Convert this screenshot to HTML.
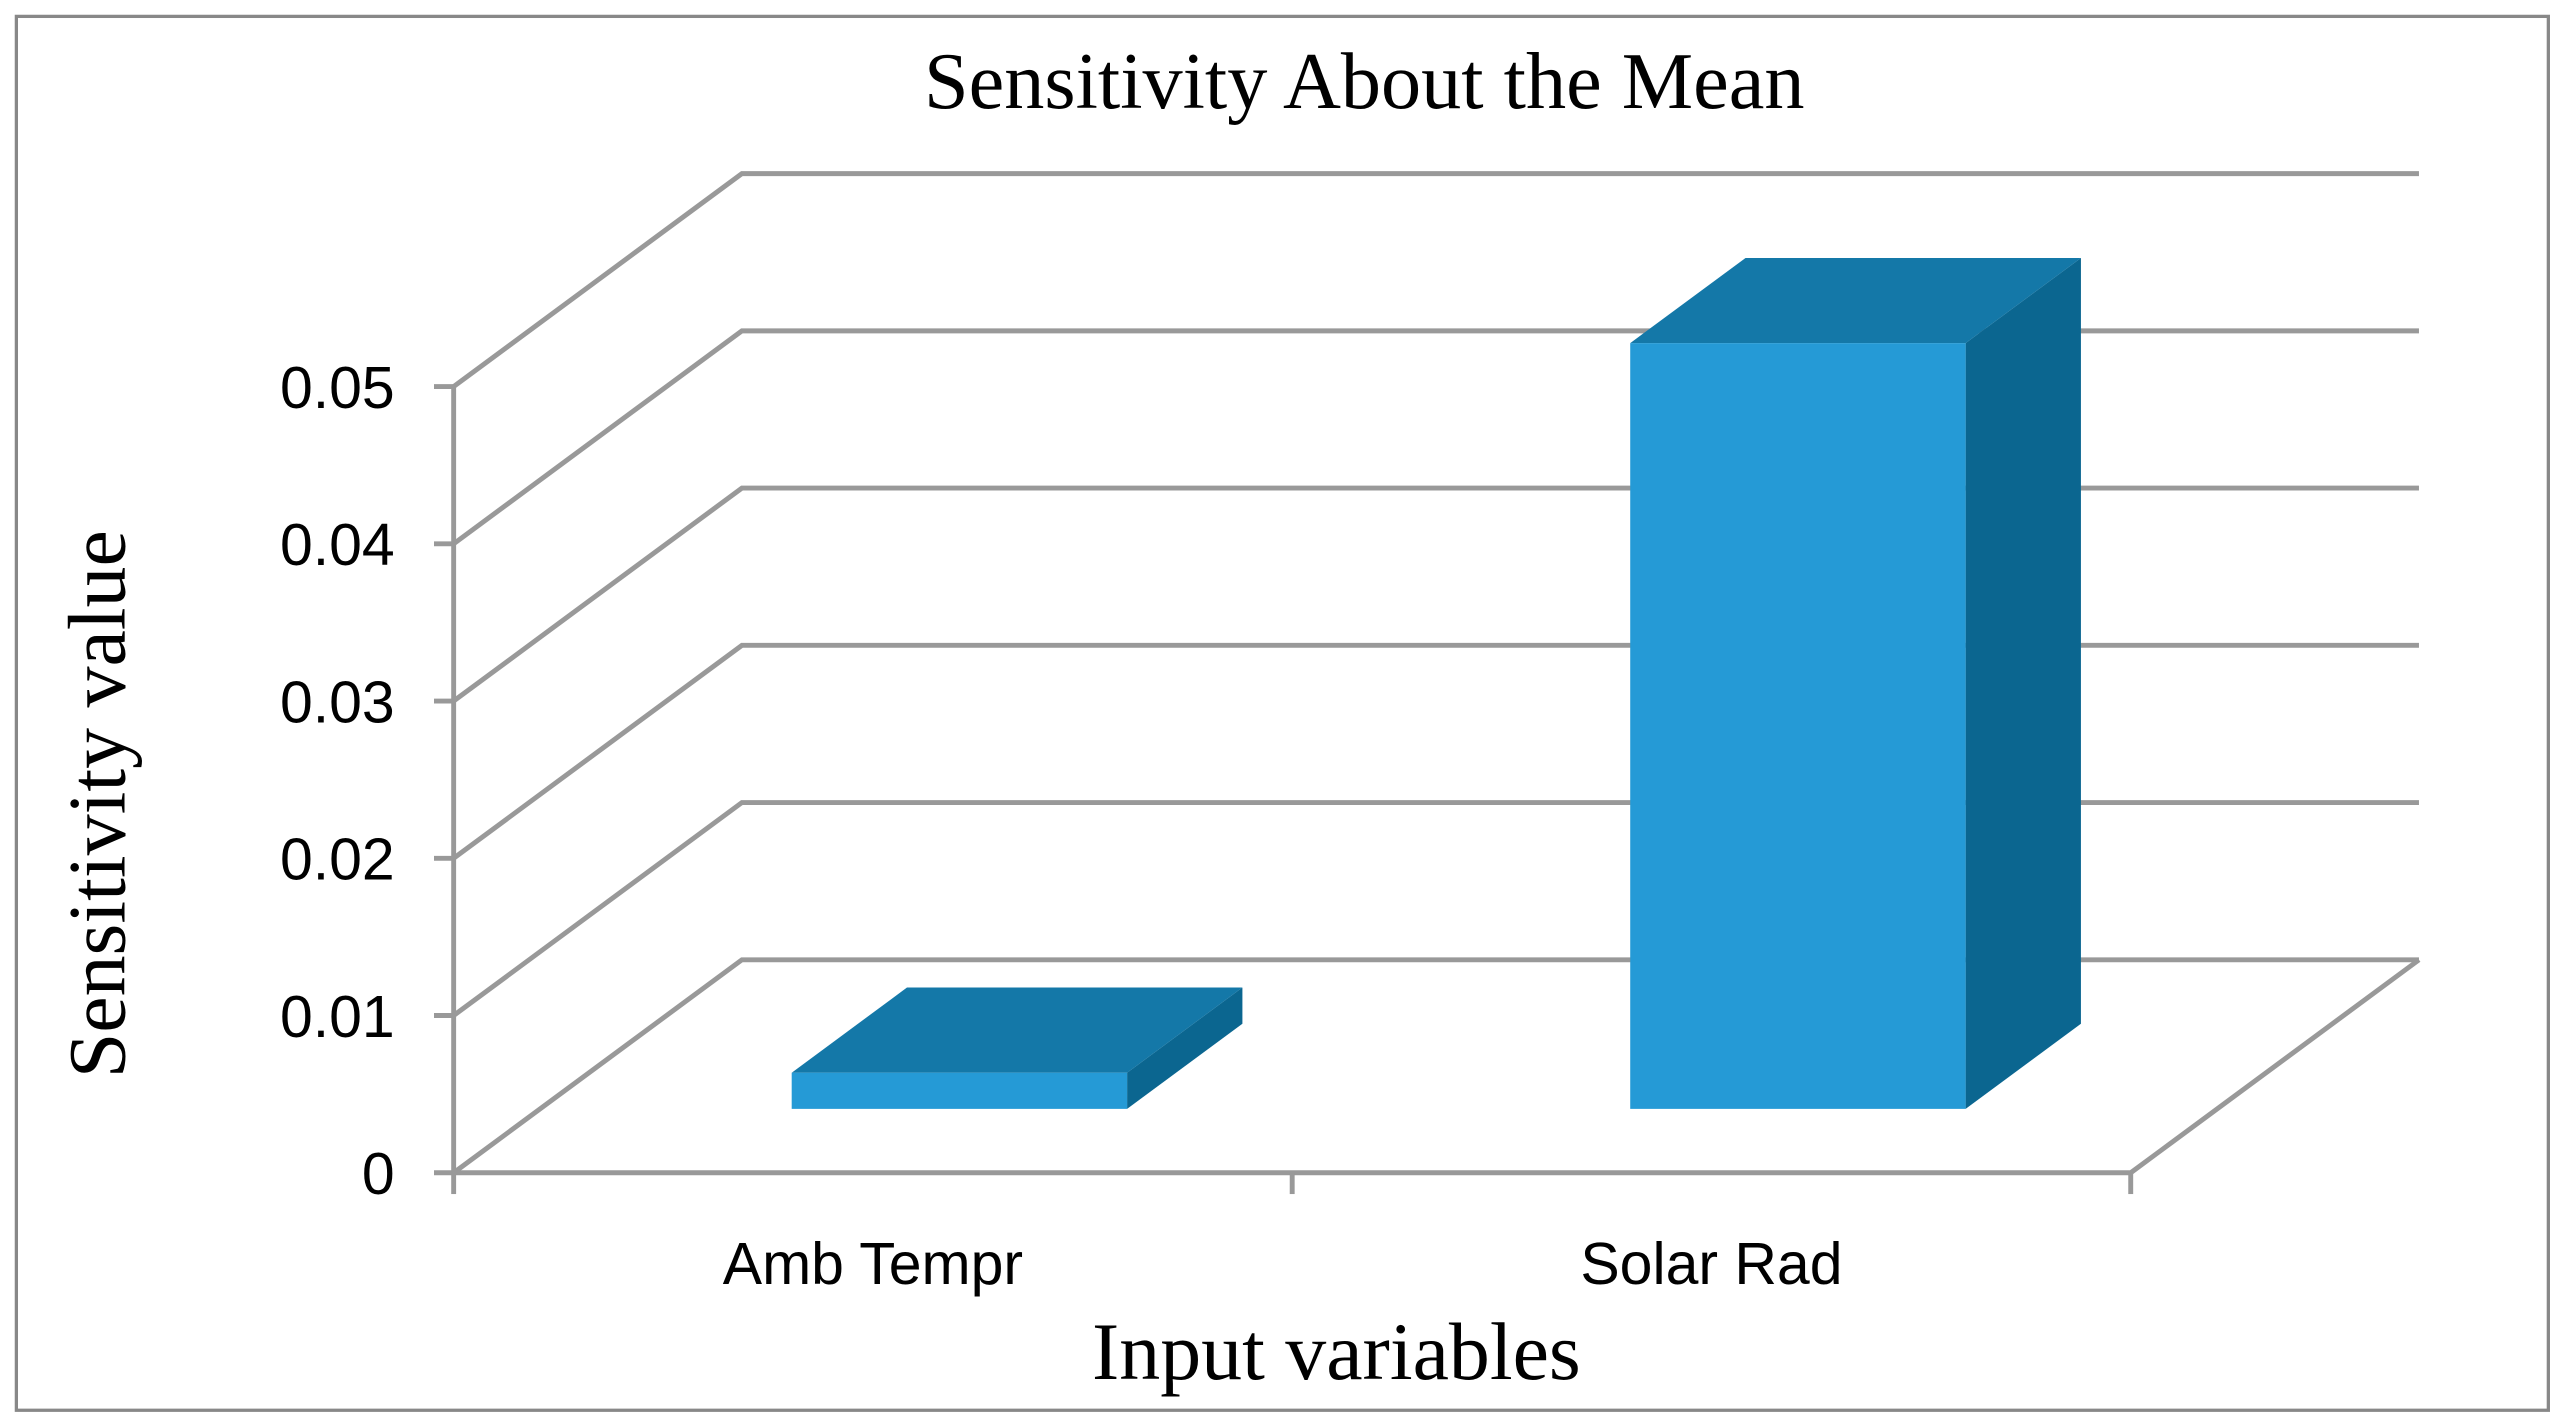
<!DOCTYPE html>
<html><head><meta charset="utf-8"><style>
html,body{margin:0;padding:0;background:#fff;}
svg{display:block;}
</style></head><body>
<svg id="chart" width="2568" height="1425" viewBox="0 0 1568 870" preserveAspectRatio="none" xmlns="http://www.w3.org/2000/svg">
<rect x="10" y="10" width="1546" height="851" fill="#fff" stroke="#888" stroke-width="2"/>
<text x="833" y="66" text-anchor="middle" font-family="Liberation Serif, serif" font-size="49">Sensitivity About the Mean</text>
<g id="grid"></g>
<g id="bars"></g>
<g id="labels"></g>
<text transform="translate(76,491) rotate(-90)" text-anchor="middle" font-family="Liberation Serif, serif" font-size="50">Sensitivity value</text>
<text x="816" y="842" text-anchor="middle" font-family="Liberation Serif, serif" font-size="50">Input variables</text>
</svg>
<script>
const categories = ["Amb Tempr", "Solar Rad"];
const values = [0.0023, 0.0487];
const yTicks = [0, 0.01, 0.02, 0.03, 0.04, 0.05];
const yTickLabels = ["0", "0.01", "0.02", "0.03", "0.04", "0.05"];

const NS = "http://www.w3.org/2000/svg";
const X0 = 277, X1 = 1301, Y0 = 716, PX_PER = 9600;
const DX = 176, DY = -130;
function yScale(v){ return Y0 - v * PX_PER; }
function band(i){ const w = (X1 - X0) / categories.length; return X0 + w * i; }
function mk(tag, attrs, parent){ const e = document.createElementNS(NS, tag); for (const k in attrs) e.setAttribute(k, attrs[k]); parent.appendChild(e); return e; }

const grid = document.getElementById("grid");
const labels = document.getElementById("labels");
const gc = "#999", gw = 3;
yTicks.forEach((t, i) => {
  const y = yScale(t);
  const pl = mk("polyline", {points: `${X0},${y} ${X0+DX},${y+DY} ${X1+DX},${y+DY}`, fill: "none", stroke: gc, "stroke-width": gw}, grid);
  
  
  const tk = mk("line", {x1: X0-12, y1: y, x2: X0, y2: y, stroke: gc, "stroke-width": gw}, grid);
  
  
  const tx = mk("text", {x: 241, y: y + 13, "text-anchor": "end", "font-family": "Liberation Sans, sans-serif", "font-size": 36}, labels);
  tx.textContent = yTickLabels[i];
  
  
});
const floor = mk("polyline", {points: `${X0},${Y0} ${X1},${Y0} ${X1+DX},${Y0+DY}`, fill: "none", stroke: gc, "stroke-width": gw}, grid);


const yAxis = mk("line", {x1: X0, y1: yScale(yTicks[yTicks.length-1]), x2: X0, y2: Y0, stroke: gc, "stroke-width": gw}, grid);


for (let i = 0; i <= categories.length; i++) {
  const x = band(i);
  const t = mk("line", {x1: x, y1: Y0, x2: x, y2: Y0 + 13, stroke: gc, "stroke-width": gw}, grid);
  
  
}
const bars = document.getElementById("bars");
const bw = (X1 - X0) / categories.length;
const f0 = 0.3, f1 = 0.7;
categories.forEach((c, i) => {
  const cx = band(i) + bw / 2 + DX * f0;
  const w = bw * 0.4;
  const xl = cx - w / 2, xr = cx + w / 2;
  const yb = yScale(0) + DY * f0;
  const yt = yb - values[i] * PX_PER;
  const ox = DX * (f1 - f0), oy = DY * (f1 - f0);
  const g = mk("g", {}, bars);
  
  
  mk("polygon", {points: `${xr},${yt} ${xr+ox},${yt+oy} ${xr+ox},${yb+oy} ${xr},${yb}`, fill: "#0B6690"}, g);
  mk("polygon", {points: `${xl},${yt} ${xl+ox},${yt+oy} ${xr+ox},${yt+oy} ${xr},${yt}`, fill: "#1478A8"}, g);
  mk("rect", {x: xl, y: yt, width: w, height: yb - yt, fill: "#259AD6"}, g);
  const tx = mk("text", {x: band(i) + bw / 2, y: 784, "text-anchor": "middle", "font-family": "Liberation Sans, sans-serif", "font-size": 36}, labels);
  tx.textContent = c;
  
  
});
</script>
</body></html>
